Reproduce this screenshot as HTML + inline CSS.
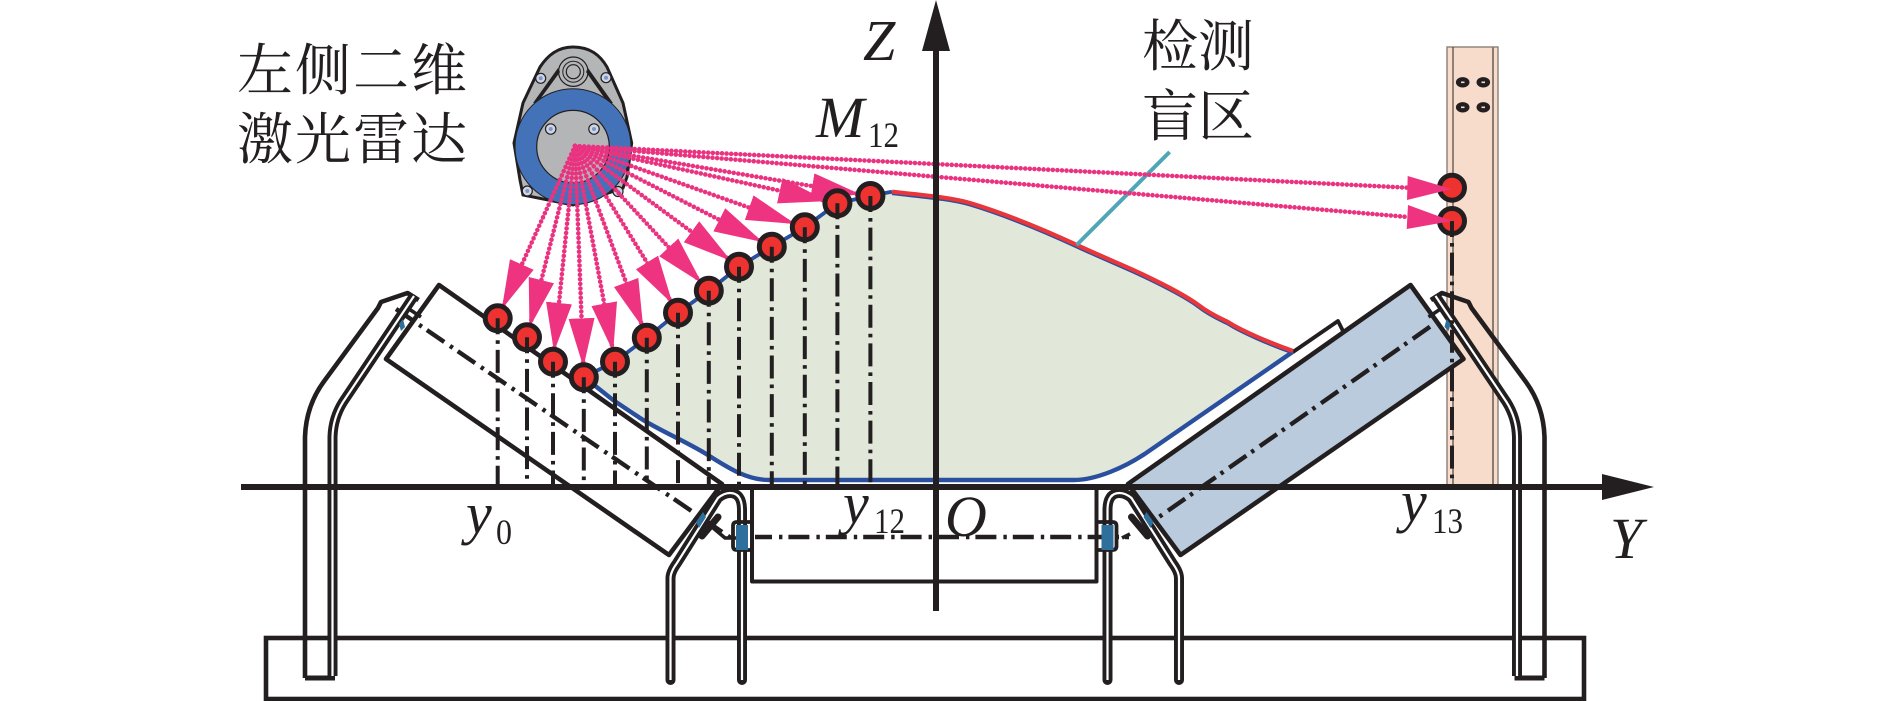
<!DOCTYPE html>
<html><head><meta charset="utf-8"><style>
html,body{margin:0;padding:0;background:#fff;width:1890px;height:701px;overflow:hidden}
svg{display:block}
.cn{font-family:"Liberation Serif","Noto Serif CJK SC",serif;font-size:56px;fill:#231f20}
.it{font-family:"Liberation Serif",serif;font-style:italic;font-size:58px;fill:#231f20}
.sub{font-family:"Liberation Serif",serif;font-size:36px;fill:#231f20}
.v{stroke:#231f20;stroke-width:4;stroke-dasharray:23 6 3.6 6;stroke-dashoffset:7;fill:none}
.b{stroke:#ea3380;stroke-width:4.6;stroke-linecap:round;stroke-dasharray:0 4.6;fill:none;marker-end:url(#ah)}
.c{fill:#ee3230;stroke:#231f20;stroke-width:5}
</style></head><body>
<svg width="1890" height="701" viewBox="0 0 1890 701" xmlns="http://www.w3.org/2000/svg">
<defs>
<marker id="ah" markerUnits="userSpaceOnUse" markerWidth="60" markerHeight="28" refX="59" refY="14" orient="auto">
<path d="M0,1 L49,14 L0,27 Z" fill="#ee3480"/>
</marker>
<g id="br" fill="none" stroke-linejoin="round">
<path d="M305,678 V437 Q306,405 325,380 L378,308 L381,302 L407.5,293 L418.6,300" stroke="#231f20" stroke-width="4.6"/>
<path d="M305,678 H335" stroke="#231f20" stroke-width="5"/>
<path d="M332.5,676 V437 Q333,418 343,402 L414,296" stroke="#231f20" stroke-width="10"/>
<path d="M332.5,676 V437 Q333,418 343,402 L414,296" stroke="#fff" stroke-width="2.2"/>
<path d="M670.5,680 V578 Q670.5,572 677,563 L718,498 Q724,493 730,493 Q742,493 742,510 V680" stroke="#231f20" stroke-width="10" stroke-linecap="round"/>
<path d="M670.5,680 V578 Q670.5,572 677,563 L718,498 Q724,493 730,493 Q742,493 742,510 V680" stroke="#fff" stroke-width="2.2"/>
<path d="M753,522 H737 Q733,522 733,526 V546 Q733,550 737,550 H753" fill="none" stroke="#231f20" stroke-width="3.8"/>
<rect x="736" y="525" width="12" height="25" fill="#2f6f9c"/>
<path d="M696,522 L703,512 L706,517 L699,528 Z" fill="#2f6f9c"/>
<path d="M702,536 L718,517" stroke="#231f20" stroke-width="7" stroke-linecap="round"/>
<path d="M399,324 L403,319 L405,327 L401,331 Z" fill="#2f6f9c"/>
<path d="M409,309 L421,317" stroke="#231f20" stroke-width="3.6"/>
</g>
</defs>

<!-- post -->
<rect x="1447" y="47" width="51" height="438" fill="#f8dccb" stroke="#8a7f78" stroke-width="1.4"/>
<path d="M1453,47 V485" stroke="#4a4340" stroke-width="1.2"/>
<path d="M1493,47 V485" stroke="#8a7a72" stroke-width="2"/>
<g fill="#231f20">
<ellipse cx="1462.7" cy="82.3" rx="6.8" ry="5.2"/><ellipse cx="1483.3" cy="82.3" rx="6.8" ry="5.2"/>
<ellipse cx="1462.7" cy="107.3" rx="6.8" ry="5.2"/><ellipse cx="1483.3" cy="107.3" rx="6.8" ry="5.2"/>
</g>
<g fill="#f8dccb">
<rect x="1461" y="81.5" width="3.5" height="1.6"/><rect x="1481.5" y="81.5" width="3.5" height="1.6"/>
<rect x="1461" y="106.5" width="3.5" height="1.6"/><rect x="1481.5" y="106.5" width="3.5" height="1.6"/>
</g>

<!-- base and centre frame -->
<rect x="266" y="638" width="1318" height="61" fill="none" stroke="#231f20" stroke-width="4.6"/>
<path d="M752,487 V581.5 H1096.5 V487" fill="none" stroke="#231f20" stroke-width="4" stroke-linejoin="round"/>

<!-- belt fill -->
<path d="M584,377 L615,361.7 L646.8,337.7 L678,312.7 L708.8,290.7 L739,266.7 L771.8,246.7 L804.8,227.3 L837.4,203.3 L870.4,196 L892,191.7 C920,195 950,197 970,203 C1000,212 1040,228 1077,245 C1105,258 1130,268 1144,275 C1165,285 1185,295 1198.5,305 C1210,314 1220,318 1228,322 C1240,330 1270,343 1293,351.7 L1149,453 Q1114,478 1074,482 H769 C750,482 735,472 711,457 C690,443 660,432 640,418 L613,400 Z" fill="#e1e8da"/>

<!-- rollers -->
<path d="M1293,352 L1338,321 L1343,331" fill="#fff" stroke="#231f20" stroke-width="3.8" stroke-linejoin="round"/>
<path d="M439,285 L386,359 L669,555 L722,484 Z" fill="#fff" stroke="#231f20" stroke-width="4.6" stroke-linejoin="round"/>
<path d="M1410.5,285 L1463.5,359 L1180.5,555 L1128,484 Z" fill="#b9cbdc" stroke="#231f20" stroke-width="4.6" stroke-linejoin="round"/>

<!-- belt lines -->
<path d="M584,377 L613,400 L640,418 C660,431 690,443 711,457 C730,469 748,480 769,480 H1074 C1095,480 1125,468 1149,451 L1293,351.7" fill="none" stroke="#2a4f9e" stroke-width="4.4"/>
<path d="M584,377 L615,361.7 L646.8,337.7 L678,312.7 L708.8,290.7 L739,266.7 L771.8,246.7 L804.8,227.3 L837.4,203.3 L870.4,196 L892,191.7" fill="none" stroke="#2a4f9e" stroke-width="3.8"/>
<path transform="translate(0,1.6)" d="M892,191.7 C920,195 950,197 970,203 C1000,212 1040,228 1077,245 C1105,258 1130,268 1144,275 C1165,285 1185,295 1198.5,305 C1210,314 1220,318 1228,322 C1240,330 1270,343 1293,351" fill="none" stroke="#2a4f9e" stroke-width="3.8"/>
<path d="M892,191.7 C920,195 950,197 970,203 C1000,212 1040,228 1077,245 C1105,258 1130,268 1144,275 C1165,285 1185,295 1198.5,305 C1210,314 1220,318 1228,322 C1240,330 1270,343 1293,351" fill="none" stroke="#e8363a" stroke-width="4.2"/>

<!-- roller centre lines -->
<g fill="none" stroke="#231f20" stroke-width="4.4" stroke-dasharray="21 7 3.4 6">
<path d="M396,309 L731,538"/>
<path d="M1430,326.7 L1159,517"/>
<path d="M755,537 H1129" stroke-dashoffset="4"/>
</g>
<path d="M712,527 L725,538 H736" fill="none" stroke="#231f20" stroke-width="3.6"/>
<path d="M1122,538 L1130,534" fill="none" stroke="#231f20" stroke-width="3.6"/>

<!-- teal leader -->
<path d="M1169.6,152 L1076.6,245" stroke="#4fa6b8" stroke-width="4" fill="none"/>

<!-- brackets -->
<use href="#br"/>
<use href="#br" transform="translate(1849.5,0) scale(-1,1)"/>

<!-- sensor -->
<path d="M573,47 C590,47 600,55 607,67 L623,103 L631.7,143 L627,177 L623,188 L573,205 L523,195 L520,180 L514,143 L523,103 L540,67 C548,55 558,47 573,47 Z" fill="#b4b5b7" stroke="#231f20" stroke-width="3"/>
<circle cx="573.3" cy="71.7" r="14.7" fill="#b4b5b7" stroke="#231f20" stroke-width="1.2"/>
<circle cx="573.3" cy="71.7" r="10.5" fill="none" stroke="#231f20" stroke-width="1"/>
<circle cx="573.3" cy="71.7" r="7" fill="none" stroke="#231f20" stroke-width="1.2"/>
<path d="M558,68 L560,72 L538,102 L533,103 Z" fill="#231f20"/>
<path d="M588,68 L586,72 L608,103 L613,103 Z" fill="#231f20"/>
<g fill="#cfd6e6" stroke="#231f20" stroke-width="1.2">
<circle cx="540.7" cy="78.3" r="5"/><circle cx="606" cy="77.7" r="5"/>
<circle cx="527.3" cy="191" r="5"/><circle cx="618" cy="191.5" r="5"/>
</g>
<circle cx="573" cy="146.7" r="58" fill="#4472b8" stroke="#231f20" stroke-width="1"/>
<circle cx="573" cy="146.7" r="36.3" fill="#b4b5b7" stroke="#231f20" stroke-width="1.2"/>
<g fill="#cfd6e6" stroke="#231f20" stroke-width="1.2">
<circle cx="550.7" cy="129" r="5.2"/><circle cx="594" cy="129" r="5.2"/>
</g>
<g fill="#7d95c6">
<circle cx="550.7" cy="129" r="2"/><circle cx="594" cy="129" r="2"/>
<circle cx="540.7" cy="78.3" r="2"/><circle cx="606" cy="77.7" r="2"/>
<circle cx="527.3" cy="191" r="2"/><circle cx="618" cy="191.5" r="2"/>
</g>

<!-- beams -->
<line class="b" x1="575" y1="146" x2="497.7" y2="318.3"/>
<line class="b" x1="575" y1="146" x2="527" y2="337.3"/>
<line class="b" x1="575" y1="146" x2="553" y2="361.7"/>
<line class="b" x1="575" y1="146" x2="583.8" y2="377.3"/>
<line class="b" x1="575" y1="146" x2="615" y2="361.7"/>
<line class="b" x1="575" y1="146" x2="646.8" y2="337.7"/>
<line class="b" x1="575" y1="146" x2="678" y2="312.7"/>
<line class="b" x1="575" y1="146" x2="708.8" y2="290.7"/>
<line class="b" x1="575" y1="146" x2="739" y2="266.7"/>
<line class="b" x1="575" y1="146" x2="771.8" y2="246.7"/>
<line class="b" x1="575" y1="146" x2="804.8" y2="227.3"/>
<line class="b" x1="575" y1="146" x2="837.4" y2="203.3"/>
<line class="b" x1="575" y1="146" x2="870.4" y2="196"/>
<line class="b" style="marker-end:none" x1="575" y1="146" x2="1408" y2="187.7"/>
<line class="b" style="marker-end:none" x1="575" y1="146" x2="1408" y2="217"/>

<!-- measuring points -->
<g>
<circle class="c" cx="497.7" cy="318.3" r="12.5"/><circle class="c" cx="527" cy="337.3" r="12.5"/>
<circle class="c" cx="553" cy="361.7" r="12.5"/><circle class="c" cx="583.8" cy="377.3" r="12.5"/>
<circle class="c" cx="615" cy="361.7" r="12.5"/><circle class="c" cx="646.8" cy="337.7" r="12.5"/>
<circle class="c" cx="678" cy="312.7" r="12.5"/><circle class="c" cx="708.8" cy="290.7" r="12.5"/>
<circle class="c" cx="739" cy="266.7" r="12.5"/><circle class="c" cx="771.8" cy="246.7" r="12.5"/>
<circle class="c" cx="804.8" cy="227.3" r="12.5"/><circle class="c" cx="837.4" cy="203.3" r="12.5"/>
<circle class="c" cx="870.4" cy="196" r="12.5"/>
<circle class="c" cx="1452" cy="187.7" r="12.5"/><circle class="c" cx="1452" cy="221" r="12.5"/>
</g>
<g>
<line class="v" x1="497.7" y1="318.3" x2="497.7" y2="485"/>
<line class="v" x1="527" y1="337.3" x2="527" y2="485"/>
<line class="v" x1="553" y1="361.7" x2="553" y2="485"/>
<line class="v" x1="583.8" y1="377.3" x2="583.8" y2="485"/>
<line class="v" x1="615" y1="361.7" x2="615" y2="485"/>
<line class="v" x1="646.8" y1="337.7" x2="646.8" y2="485"/>
<line class="v" x1="678" y1="312.7" x2="678" y2="485"/>
<line class="v" x1="708.8" y1="290.7" x2="708.8" y2="485"/>
<line class="v" x1="739" y1="266.7" x2="739" y2="485"/>
<line class="v" x1="771.8" y1="246.7" x2="771.8" y2="485"/>
<line class="v" x1="804.8" y1="227.3" x2="804.8" y2="485"/>
<line class="v" x1="837.4" y1="203.3" x2="837.4" y2="485"/>
<line class="v" x1="870.4" y1="196" x2="870.4" y2="485"/>
<line class="v" x1="1452" y1="221" x2="1452" y2="485"/>
</g>
<polygon points="1407.7,176 1451.7,189 1407,200" fill="#ee3480"/>
<polygon points="1408,205 1451.7,221 1406.7,229" fill="#ee3480"/>

<!-- axes -->
<path d="M241,487 H1604" stroke="#231f20" stroke-width="6"/>
<polygon points="1602,474 1654,487 1602,500" fill="#231f20"/>
<path d="M936,50 V611" stroke="#231f20" stroke-width="6"/>
<polygon points="922,51 936,0 950,51" fill="#231f20"/>

<!-- labels -->
<text class="cn" x="237" y="90" textLength="230">左侧二维</text>
<text class="cn" x="237" y="159" textLength="230">激光雷达</text>
<text class="cn" x="1142" y="66" textLength="112">检测</text>
<text class="cn" x="1142" y="136" textLength="112">盲区</text>
<text class="it" x="863" y="60">Z</text>
<text class="it" x="816" y="137">M</text><text class="sub" x="868" y="147" textLength="31" lengthAdjust="spacingAndGlyphs">12</text>
<text class="it" x="466" y="533">y</text><text class="sub" x="496" y="544" textLength="16" lengthAdjust="spacingAndGlyphs">0</text>
<text class="it" x="843" y="523">y</text><text class="sub" x="874" y="533" textLength="31" lengthAdjust="spacingAndGlyphs">12</text>
<text class="it" x="945" y="536">O</text>
<text class="it" x="1401" y="521">y</text><text class="sub" x="1432" y="533" textLength="31" lengthAdjust="spacingAndGlyphs">13</text>
<text class="it" x="1610" y="558">Y</text>
</svg>
</body></html>
